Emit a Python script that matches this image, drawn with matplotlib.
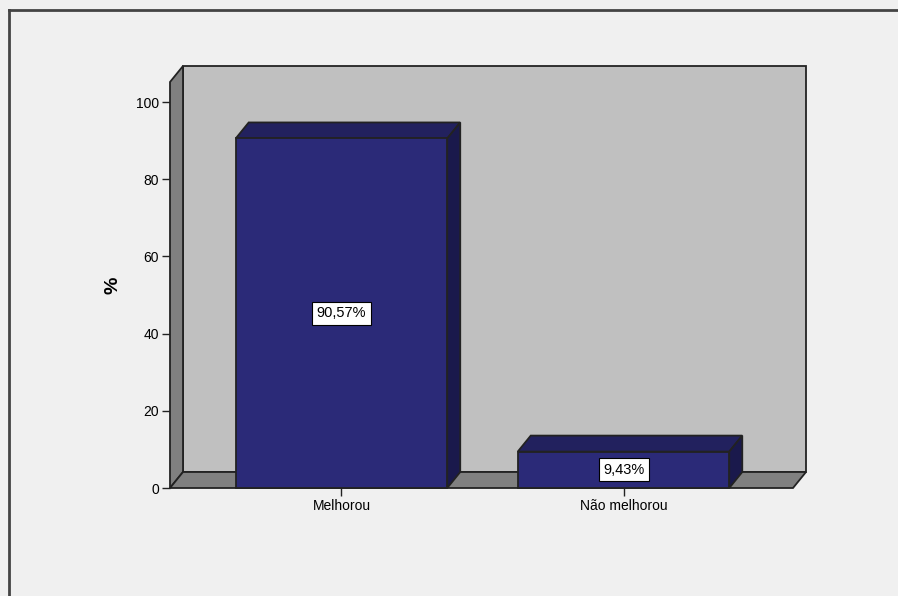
import matplotlib.pyplot as plt
import numpy as np
from matplotlib.patches import Polygon
from matplotlib.lines import Line2D

plt.rcParams['font.family'] = ['Liberation Sans', 'DejaVu Sans']

categories = ['Melhorou', 'Não melhorou']
percents = [90.57, 9.43]
bar_labels = ['90,57%', '9,43%']
yticks = [0, 20, 40, 60, 80, 100]

# colours picked off the SPSS style picture
bg = '#f0f0f0'
wall = '#c0c0c0'
side = '#808080'
front = '#2b2a78'
top = '#22215e'
right = '#1a194c'
edge = '#222222'

W, H = 898, 596
fig = plt.figure(figsize=(W / 100, H / 100), dpi=100, facecolor=bg)

# axes box in pixels (front plane)
px0, px1, py0, py1 = 170, 793, 488, 82
ax = fig.add_axes([px0 / W, (H - py0) / H, (px1 - px0) / W, (py0 - py1) / H])
ax.set_facecolor('none')

x = np.arange(len(categories))
xmin, xmax = -0.608, 1.601
ymin, ymax = 0, 105.2
ax.set_xlim(xmin, xmax)
ax.set_ylim(ymin, ymax)

# depth offset of the 3d look, in data units
xs = (xmax - xmin) / (px1 - px0)
ys = (ymax - ymin) / (py0 - py1)
dx, dy = 13 * xs, 16 * ys

def poly(pts, fc, z):
    ax.add_patch(Polygon(pts, closed=True, facecolor=fc, edgecolor=edge,
                         linewidth=1.3, clip_on=False, zorder=z, joinstyle='miter'))

# back wall, left wall, floor
poly([(xmin + dx, dy), (xmax + dx, dy), (xmax + dx, ymax + dy), (xmin + dx, ymax + dy)], wall, 1)
poly([(xmin, 0), (xmin, ymax), (xmin + dx, ymax + dy), (xmin + dx, dy)], side, 2)
poly([(xmin, 0), (xmax, 0), (xmax + dx, dy), (xmin + dx, dy)], side, 2)

bw = 0.75
for xi, v, lab in zip(x, percents, bar_labels):
    l, r = xi - bw / 2, xi + bw / 2
    poly([(l, v), (r, v), (r + dx, v + dy), (l + dx, v + dy)], top, 3)
    poly([(r, 0), (r + dx, dy), (r + dx, v + dy), (r, v)], right, 3)
    poly([(l, 0), (r, 0), (r, v), (l, v)], front, 4)
    ax.text(xi, v / 2, lab, ha='center', va='center', fontsize=10.5, zorder=5,
            bbox=dict(boxstyle='square,pad=0.3', facecolor='white', edgecolor='black', linewidth=0.8))

for s in ax.spines.values():
    s.set_visible(False)

ax.set_yticks(yticks)
ax.set_xticks(x)
ax.set_xticklabels(categories)
ax.tick_params(axis='both', length=6, width=1.0, color='#222222', labelsize=10, pad=2)
ax.set_ylabel('%', fontsize=14, fontweight='bold')
ax.yaxis.set_label_coords((122 - px0) / (px1 - px0), 0.5)

# outer frame of the chart
fig.add_artist(Line2D([9 / W, 9 / W], [0, 1 - 10 / H], color='#444444', lw=2))
fig.add_artist(Line2D([9 / W, 1], [1 - 10 / H, 1 - 10 / H], color='#444444', lw=2))

fig.savefig('out.png', dpi=100, facecolor=bg)
